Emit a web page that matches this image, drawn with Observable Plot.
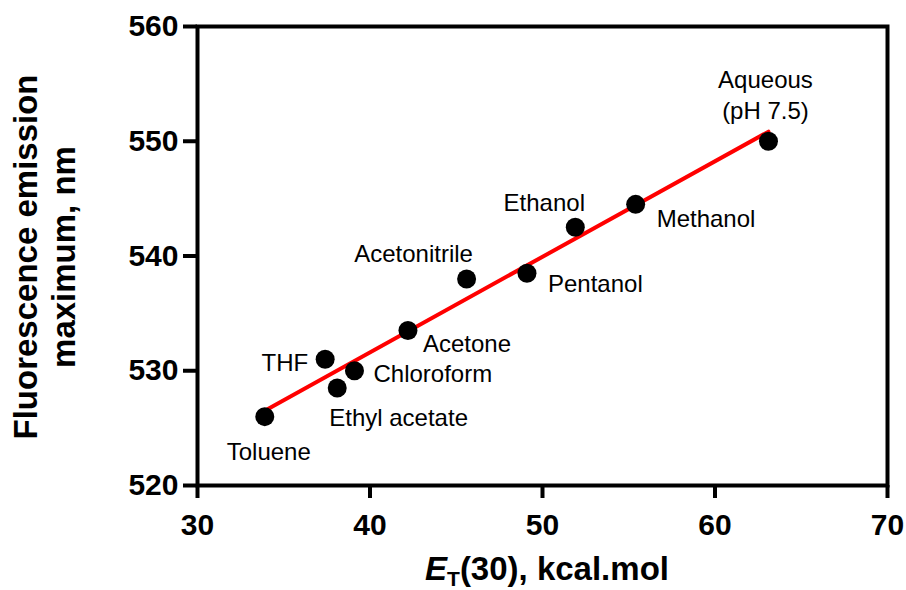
<!DOCTYPE html>
<html>
<head>
<meta charset="utf-8">
<script src="https://cdn.jsdelivr.net/npm/d3@7"></script>
<script src="https://cdn.jsdelivr.net/npm/@observablehq/plot@0.6"></script>
<style>
  html, body { margin: 0; padding: 0; background: #fff; }
</style>
</head>
<body>
<div id="chart"></div>
<script>
// Data
const solvents = ["Toluene", "THF", "Ethyl acetate", "Chloroform", "Acetone", "Acetonitrile", "Pentanol", "Ethanol", "Methanol", "Aqueous\n(pH 7.5)"];
const et30 = [33.9, 37.4, 38.1, 39.1, 42.2, 45.6, 49.1, 51.9, 55.4, 63.1];
const emission = [526, 531, 528.5, 530, 533.5, 538, 538.5, 542.5, 544.5, 550];
const xTicks = [30, 40, 50, 60, 70];
const yTicks = [520, 530, 540, 550, 560];

// Label placement (styling only): offsets in pixels from the dot
const labelAnchor = ["middle", "end", "start", "start", "start", "middle", "start", "middle", "start", "middle"];
const labelDx = [4, -17, -8, 19, 15, -53, 21, -31, 21, -3];
const labelDy = [33, 2, 28, 1, 11, -27, 9, -27, 12, -48];

const data = solvents.map((s, i) => ({name: s, x: et30[i], y: emission[i], i}));

const font = "'Liberation Sans', Arial, Helvetica, sans-serif";

const labelMarks = data.map(d => Plot.text([d], {
  x: "x", y: "y", text: "name",
  textAnchor: labelAnchor[d.i],
  dx: labelDx[d.i], dy: labelDy[d.i],
  fontSize: 24, fill: "black", lineHeight: 1.33
}));

const chart = Plot.plot({
  width: 906,
  height: 590,
  marginLeft: 197,
  marginRight: 19,
  marginTop: 26,
  marginBottom: 105,
  style: {fontFamily: font, background: "white", color: "black", overflow: "visible"},
  x: {domain: [30, 70]},
  y: {domain: [520, 560]},
  marks: [
    Plot.frame({stroke: "black", strokeWidth: 4}),
    Plot.axisX(xTicks, {tickSize: 13, tickPadding: 15, strokeWidth: 4, fontSize: 30, fontWeight: "bold", label: null}),
    Plot.axisY(yTicks, {tickSize: 14, tickPadding: 5, strokeWidth: 4, fontSize: 30, fontWeight: "bold", label: null}),
    Plot.linearRegressionY(data, {x: "x", y: "y", stroke: "#ff0000", strokeWidth: 4, ci: 0}),
    Plot.dot(data, {x: "x", y: "y", r: 9.5, fill: "black", stroke: "none"}),
    ...labelMarks
  ]
});

document.getElementById("chart").appendChild(chart);

// Axis titles
const svg = d3.select(chart);
const xt = svg.append("text")
  .attr("x", 547).attr("y", 580)
  .attr("text-anchor", "middle")
  .attr("font-family", font)
  .attr("font-size", 33)
  .attr("font-weight", "bold")
  .attr("fill", "black");
xt.append("tspan").attr("font-style", "italic").text("E");
xt.append("tspan").attr("font-size", 21).attr("dy", 6).text("T");
xt.append("tspan").attr("dy", -6).text("(30), kcal.mol");

const yt = svg.append("g")
  .attr("transform", "translate(0,257) rotate(-90)")
  .attr("font-family", font)
  .attr("font-size", 33)
  .attr("font-weight", "bold")
  .attr("fill", "black")
  .attr("text-anchor", "middle");
yt.append("text").attr("x", 0).attr("y", 37).text("Fluorescence emission");
yt.append("text").attr("x", 0).attr("y", 75).text("maximum, nm");
</script>
</body>
</html>
